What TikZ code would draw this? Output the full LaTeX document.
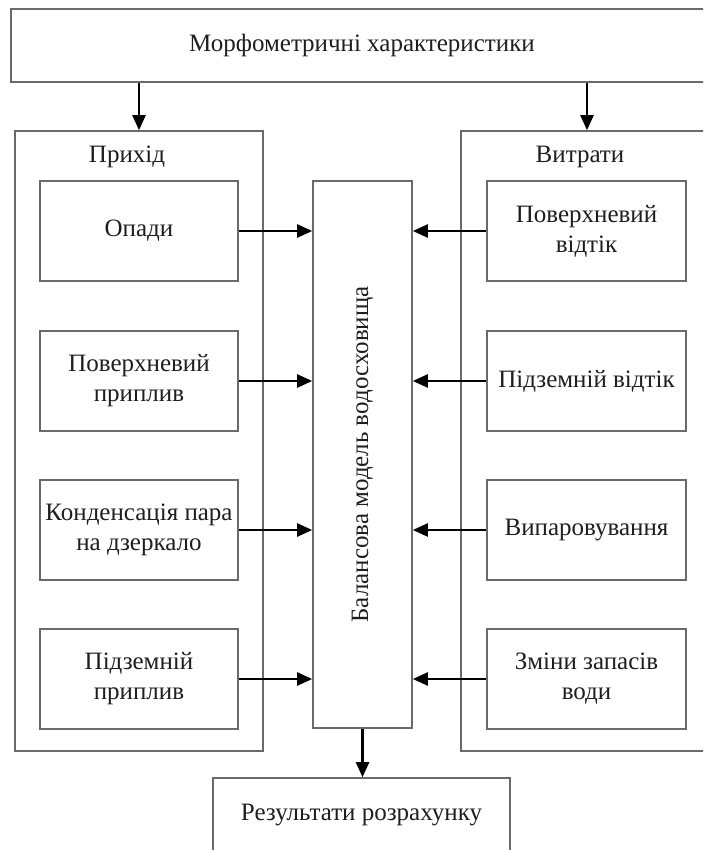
\documentclass[tikz,border=0pt]{standalone}
\usepackage{fontspec}
\setmainfont{Liberation Serif}
\usetikzlibrary{arrows.meta}
\definecolor{framegray}{HTML}{6A6A6A}
\definecolor{textgray}{HTML}{1E1E1E}
\begin{document}
\begin{tikzpicture}[x=1pt,y=-1pt,
  box/.style={draw=framegray, line width=1.6pt, inner sep=0pt, align=center,
    text=textgray, font=\fontsize{25}{30}\selectfont},
  lbl/.style={inner sep=0pt, text=textgray, font=\fontsize{25}{30}\selectfont},
  arr/.style={draw=black, line width=2.4pt,
    -{Triangle[length=15pt,width=13pt]}}]
\useasboundingbox (0,0) rectangle (703,850);
\clip (0,0) rectangle (703,850);

% header and footer
\node[box, minimum width=702pt, minimum height=73pt] (top) at (362,45.5)
  {Морфометричні характеристики};
\node[box, minimum width=297pt, minimum height=90pt] (res) at (361.5,823)
  {};
\node[lbl] at (361.5,815) {Результати розрахунку};

% the two groups
\node[box, minimum width=248pt, minimum height=620pt] (lframe) at (139,441) {};
\node[box, minimum width=252pt, minimum height=620pt] (rframe) at (587,441) {};
\node[lbl] (lhead) at (127,157) {Прихід};
\node[lbl] (rhead) at (580,157) {Витрати};

% reservoir balance model
\node[box, minimum width=99pt, minimum height=547pt] (core) at (362.5,454.5) {};
\node[lbl, rotate=90] (coretext) at (core.center) {Балансова модель водосховища};

% inflow components
\node[box, minimum width=198pt, minimum height=100pt] (l1) at (139,231) {Опади};
\node[box, minimum width=198pt, minimum height=100pt] (l2) at (139,381) {Поверхневий\\приплив};
\node[box, minimum width=198pt, minimum height=100pt] (l3) at (139,530) {Конденсація пара\\на дзеркало};
\node[box, minimum width=198pt, minimum height=100pt] (l4) at (139,679) {Підземній\\приплив};

% outflow components
\node[box, minimum width=199pt, minimum height=100pt] (r1) at (586.5,231) {Поверхневий\\відтік};
\node[box, minimum width=199pt, minimum height=100pt] (r2) at (586.5,381) {Підземній відтік};
\node[box, minimum width=199pt, minimum height=100pt] (r3) at (586.5,530) {Випаровування};
\node[box, minimum width=199pt, minimum height=100pt] (r4) at (586.5,679) {Зміни запасів\\води};

% connectors
\draw[arr] (lframe.north |- top.south) -- (lframe.north);
\draw[arr] (rframe.north |- top.south) -- (rframe.north);
\foreach \i in {1,2,3,4} {
  \draw[arr] (l\i.east) -- (l\i.east -| core.west);
  \draw[arr] (r\i.west) -- (r\i.west -| core.east);
}
\draw[arr] (core.south) -- (res.north -| core.south);
\end{tikzpicture}
\end{document}
